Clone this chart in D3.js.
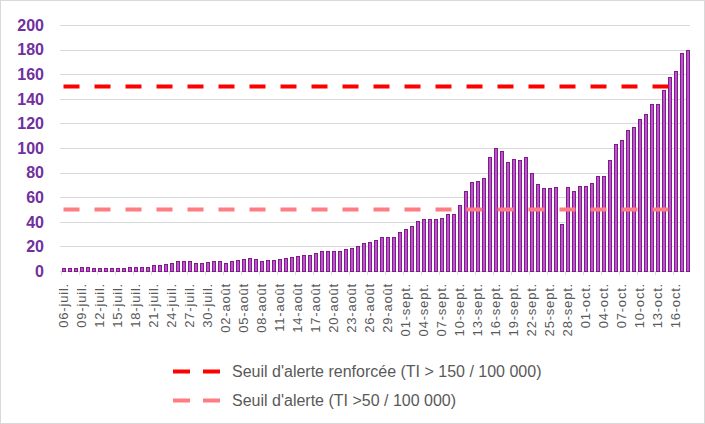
<!DOCTYPE html>
<html>
<head>
<meta charset="utf-8">
<script src="https://cdn.jsdelivr.net/npm/d3@7"></script>
<style>
  body { margin: 0; background: #fff; }
  svg { display: block; font-family: "Liberation Sans", Arial, sans-serif; }
</style>
</head>
<body>
<svg id="chart" width="705" height="424"></svg>
<script>
// daily categories, 06-juil. -> 18-oct.
var days = [
  "06-juil.","07-juil.","08-juil.","09-juil.","10-juil.","11-juil.","12-juil.","13-juil.","14-juil.","15-juil.",
  "16-juil.","17-juil.","18-juil.","19-juil.","20-juil.","21-juil.","22-juil.","23-juil.","24-juil.","25-juil.",
  "26-juil.","27-juil.","28-juil.","29-juil.","30-juil.","31-juil.",
  "01-août","02-août","03-août","04-août","05-août","06-août","07-août","08-août","09-août","10-août",
  "11-août","12-août","13-août","14-août","15-août","16-août","17-août","18-août","19-août","20-août",
  "21-août","22-août","23-août","24-août","25-août","26-août","27-août","28-août","29-août","30-août","31-août",
  "01-sept.","02-sept.","03-sept.","04-sept.","05-sept.","06-sept.","07-sept.","08-sept.","09-sept.","10-sept.",
  "11-sept.","12-sept.","13-sept.","14-sept.","15-sept.","16-sept.","17-sept.","18-sept.","19-sept.","20-sept.",
  "21-sept.","22-sept.","23-sept.","24-sept.","25-sept.","26-sept.","27-sept.","28-sept.","29-sept.","30-sept.",
  "01-oct.","02-oct.","03-oct.","04-oct.","05-oct.","06-oct.","07-oct.","08-oct.","09-oct.","10-oct.",
  "11-oct.","12-oct.","13-oct.","14-oct.","15-oct.","16-oct.","17-oct.","18-oct."
];

// taux d'incidence (pour 100 000 hab.)
var incidence = [
  2, 2, 2, 3, 3, 2, 2, 2, 2, 2,
  2, 3, 3, 3, 3, 4.5, 4.5, 5.5, 6, 7.5,
  7.5, 7.5, 6, 6, 7, 7.5,
  7.5, 6.5, 8, 8.5, 9.5, 10, 9, 8, 8.5, 8.5,
  9, 10, 11, 12, 13, 13, 14.5, 15.5, 16, 16,
  16, 17.5, 18.5, 20, 22, 23.5, 25, 27, 27, 27, 31.5,
  34, 36.5, 40, 41.5, 41.5, 41.5, 42.5, 46, 46, 53.5,
  65, 72, 73, 75, 92, 100, 97, 88, 90.5, 90,
  92, 79, 70.5, 67, 67, 68, 38, 68, 64.5, 69,
  69, 71, 76.5, 76.5, 89.5, 103, 106.5, 114.5, 117, 123,
  127, 135, 135, 147, 157, 162.5, 177, 179
];

var tickLabels = [
  "06-juil.","09-juil.","12-juil.","15-juil.","18-juil.","21-juil.","24-juil.","27-juil.","30-juil.",
  "02-août","05-août","08-août","11-août","14-août","17-août","20-août","23-août","26-août","29-août",
  "01-sept.","04-sept.","07-sept.","10-sept.","13-sept.","16-sept.","19-sept.","22-sept.","25-sept.","28-sept.",
  "01-oct.","04-oct.","07-oct.","10-oct.","13-oct.","16-oct."
];

var yTicks = [0, 20, 40, 60, 80, 100, 120, 140, 160, 180, 200];

// seuils
var thresholds = [
  {label: "Seuil d'alerte renforcée (TI > 150 / 100 000)", value: 150, color: "#ff0000"},
  {label: "Seuil d'alerte (TI >50 / 100 000)", value: 50, color: "#ff7d82"}
];
var thresholdFrom = "06-juil.", thresholdTo = "15-oct.";

var svg = d3.select("svg#chart"),
    width = +svg.attr("width"),
    height = +svg.attr("height");

svg.append("rect")
    .attr("x", 0.5).attr("y", 0.5)
    .attr("width", width - 1).attr("height", height - 1)
    .attr("fill", "#fff")
    .attr("stroke", "#d9d9d9");

var x = d3.scaleBand()
    .domain(days)
    .range([60.5, 690.5])
    .paddingInner(0.5)
    .paddingOuter(0.25);

var y = d3.scaleLinear()
    .domain([0, 200])
    .range([271, 25]);

// gridlines
svg.append("g")
    .selectAll("line")
    .data(yTicks)
    .enter().append("line")
      .attr("x1", 60)
      .attr("x2", 690)
      .attr("y1", function(d) { return Math.round(y(d)) + 0.5; })
      .attr("y2", function(d) { return Math.round(y(d)) + 0.5; })
      .attr("stroke", "#d9d9d9")
      .attr("stroke-width", 1);

// y axis labels
svg.append("g")
    .selectAll("text")
    .data(yTicks)
    .enter().append("text")
      .attr("x", 44)
      .attr("y", function(d) { return y(d); })
      .attr("dy", "0.36em")
      .attr("text-anchor", "end")
      .attr("fill", "#7030a0")
      .attr("font-weight", "bold")
      .attr("font-size", 16)
      .text(function(d) { return d; });

// bars
svg.append("g")
    .attr("shape-rendering", "crispEdges")
    .selectAll("rect")
    .data(incidence)
    .enter().append("rect")
      .attr("x", function(d, i) { return x(days[i]); })
      .attr("y", function(d) { return y(d); })
      .attr("width", x.bandwidth())
      .attr("height", function(d) { return y(0) - y(d); })
      .attr("fill", "#b45ac6")
      .attr("stroke", "#86178f")
      .attr("stroke-width", 1);

// x axis
var xAxis = svg.append("g")
    .attr("transform", "translate(0," + Math.round(y(0)) + ")");

xAxis.selectAll("line.tick")
    .data(tickLabels)
    .enter().append("line")
      .attr("class", "tick")
      .attr("x1", function(d) { return Math.round(x(d) - x.step() * 0.25) + 0.5; })
      .attr("x2", function(d) { return Math.round(x(d) - x.step() * 0.25) + 0.5; })
      .attr("y1", 0)
      .attr("y2", 4)
      .attr("stroke", "#d9d9d9");

xAxis.selectAll("text")
    .data(tickLabels)
    .enter().append("text")
      .attr("transform", function(d) {
        return "translate(" + (x(d) + x.bandwidth() / 2) + ",12) rotate(-90)";
      })
      .attr("dy", "0.36em")
      .attr("text-anchor", "end")
      .attr("fill", "#595959")
      .attr("font-size", 13)
      .attr("letter-spacing", 0.8)
      .text(function(d) { return d; });

// threshold lines
svg.append("g")
    .selectAll("line")
    .data(thresholds)
    .enter().append("line")
      .attr("x1", x(thresholdFrom) + x.bandwidth() / 2)
      .attr("x2", x(thresholdTo) + x.bandwidth() / 2)
      .attr("y1", function(d) { return y(d.value); })
      .attr("y2", function(d) { return y(d.value); })
      .attr("stroke", function(d) { return d.color; })
      .attr("stroke-width", 4)
      .attr("stroke-dasharray", "16,15");

// legend
var legend = svg.append("g")
    .selectAll("g")
    .data(thresholds)
    .enter().append("g")
      .attr("transform", function(d, i) { return "translate(0," + (371.5 + i * 29) + ")"; });

legend.append("line")
    .attr("x1", 173)
    .attr("x2", 220)
    .attr("stroke", function(d) { return d.color; })
    .attr("stroke-width", 4)
    .attr("stroke-dasharray", "17,13");

legend.append("text")
    .attr("x", 232)
    .attr("dy", "0.35em")
    .attr("fill", "#595959")
    .attr("font-size", 16)
    .text(function(d) { return d.label; });
</script>
</body>
</html>
